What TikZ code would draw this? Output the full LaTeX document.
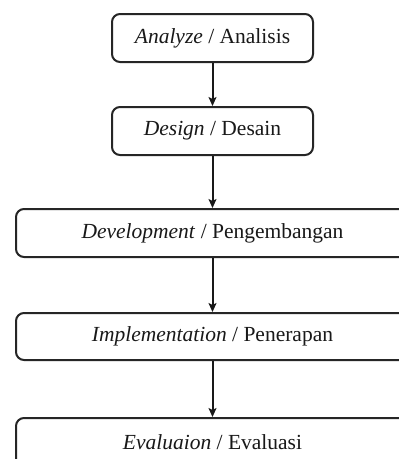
\documentclass[tikz,border=0pt]{standalone}
\usepackage{fontspec}
\setmainfont{Liberation Serif}
\usetikzlibrary{arrows.meta}
\begin{document}
\begin{tikzpicture}[x=1pt,y=-1pt,
  stagebox/.style={draw=black!85, line width=2pt, rounded corners=8pt, inner sep=0pt,
    minimum height=48pt, font=\fontsize{21.5}{25}\selectfont, text=black!90},
  narrowbox/.style={stagebox, minimum width=201pt},
  widebox/.style={stagebox, minimum width=393pt},
  flow/.style={line width=2pt, draw=black!90, -{Stealth[length=9pt,width=8pt,inset=2pt]}}]
\useasboundingbox (0,0) rectangle (399,459);
\clip (0,0) rectangle (399,459);
\fill[white] (0,0) rectangle (399,459);
\node[narrowbox] (a) at (212.5,38) {\textit{Analyze} / Analisis};
\node[narrowbox] (b) at (212.5,131) {\textit{Design} / Desain};
\node[widebox] (c) at (212.5,233) {\textit{Development} / Pengembangan};
\node[widebox, minimum height=47pt] (d) at (212.5,336.5) {\textit{Implementation} / Penerapan};
\node[widebox] (e) at (212.5,442) {\textit{Evaluaion} / Evaluasi};
\draw[flow] (a) -- (b);
\draw[flow] (b) -- (c);
\draw[flow] (c) -- (d);
\draw[flow] (d) -- (e);
\end{tikzpicture}
\end{document}
